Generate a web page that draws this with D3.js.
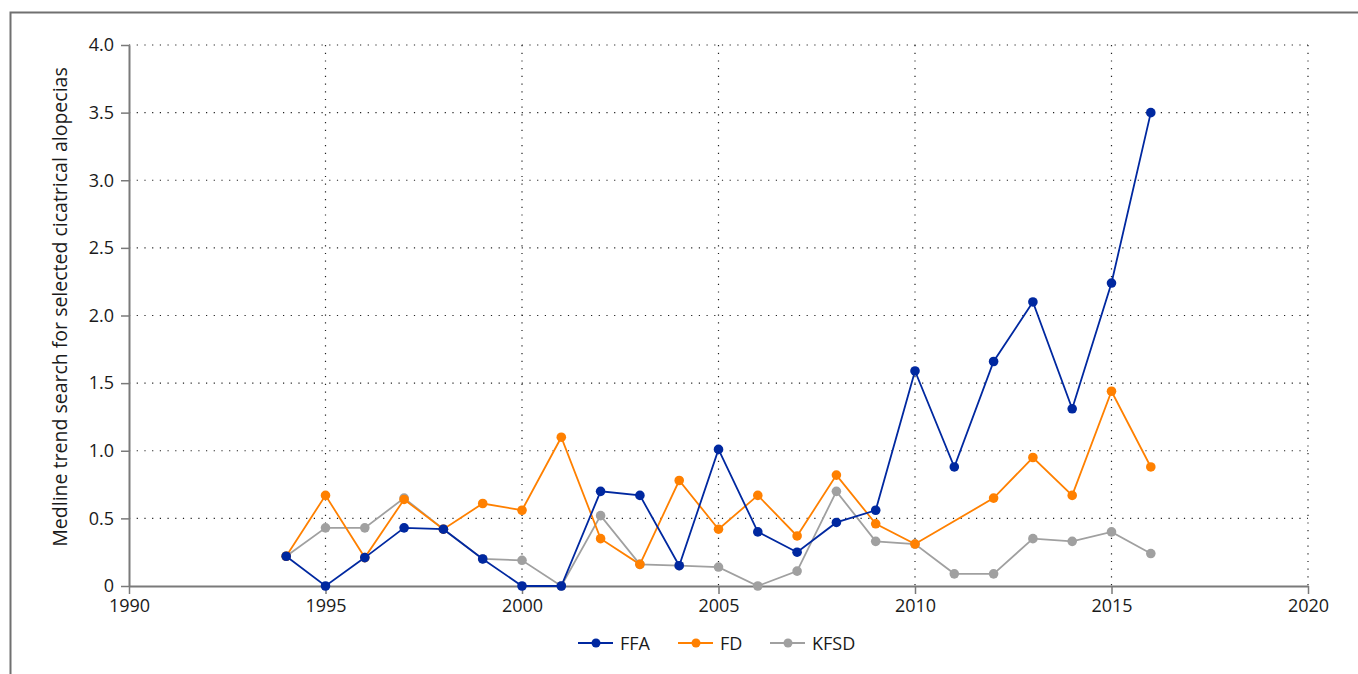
<!DOCTYPE html>
<html>
<head>
<meta charset="utf-8">
<script src="https://cdn.jsdelivr.net/npm/d3@7"></script>
<style>
  body { margin: 0; background: #fff; }
  text { font-family: "Open Sans", "Noto Sans", sans-serif; fill: #1a1a1a; }
</style>
</head>
<body>
<svg id="chart" width="1358" height="674"></svg>
<script>
// years on the x axis
var years = d3.range(1994, 2017)
// series values, null = no point that year
var ffa = [0.22, 0, 0.21, 0.43, 0.42, 0.20, 0, 0, 0.70, 0.67, 0.15, 1.01, 0.40, 0.25, 0.47, 0.56, 1.59, 0.88, 1.66, 2.10, 1.31, 2.24, 3.50]
var fd = [0.22, 0.67, 0.21, 0.64, 0.42, 0.61, 0.56, 1.10, 0.35, 0.16, 0.78, 0.42, 0.67, 0.37, 0.82, 0.46, 0.31, null, 0.65, 0.95, 0.67, 1.44, 0.88]
var kfsd = [0.22, 0.43, 0.43, 0.65, 0.42, 0.20, 0.19, 0, 0.52, 0.16, 0.15, 0.14, 0, 0.11, 0.70, 0.33, 0.31, 0.09, 0.09, 0.35, 0.33, 0.40, 0.24]
var seriesNames = ['FFA', 'FD', 'KFSD']
var seriesColors = ['#0028a0', '#ff8000', '#a0a0a0']
var xTicks = [1990, 1995, 2000, 2005, 2010, 2015, 2020]
var yTicks = [0, 0.5, 1.0, 1.5, 2.0, 2.5, 3.0, 3.5, 4.0]

var margin = {top: 45, right: 50, bottom: 88, left: 129}
var width = 1358 - margin.left - margin.right
var height = 674 - margin.top - margin.bottom

var svg = d3.select('#chart')

// outer frame (only left and top edges visible)
svg.append('path')
  .attr('d', 'M10.5,700 V12.5 H1400')
  .attr('fill', 'none')
  .attr('stroke', '#707070')
  .attr('stroke-width', 2)

var g = svg.append('g')
  .attr('transform', 'translate(' + margin.left + ',' + margin.top + ')')

var x = d3.scaleLinear().domain([1990, 2020]).range([0, width])
var y = d3.scaleLinear().domain([0, 4]).range([height, 0])

// dotted grid
g.append('g').selectAll('line')
  .data(yTicks.filter(function (d) { return d > 0 }))
  .enter().append('line')
  .attr('x1', 0).attr('x2', width)
  .attr('y1', function (d) { return y(d) }).attr('y2', function (d) { return y(d) })
  .attr('stroke', '#222').attr('stroke-width', 1.2).attr('stroke-dasharray', '1.2,6.5')

g.append('g').selectAll('line')
  .data(xTicks.filter(function (d) { return d > 1990 }))
  .enter().append('line')
  .attr('x1', function (d) { return x(d) }).attr('x2', function (d) { return x(d) })
  .attr('y1', 0).attr('y2', height)
  .attr('stroke', '#222').attr('stroke-width', 1.2).attr('stroke-dasharray', '1.2,6.5')

// axes
var fmtY = function (d) { return d === 0 ? '0' : d3.format('.1f')(d) }

var yAxisG = g.append('g')
  .call(d3.axisLeft(y).tickValues(yTicks).tickFormat(fmtY).tickSize(8).tickSizeOuter(0))
yAxisG.attr('font-size', 18).attr('font-family', '"Open Sans", sans-serif')
yAxisG.select('.domain').attr('stroke', '#7a7a7a').attr('stroke-width', 2)
yAxisG.selectAll('.tick line').attr('stroke', '#7a7a7a').attr('stroke-width', 1.5)
yAxisG.selectAll('.tick text').attr('x', -15).attr('fill', '#1a1a1a')

var xAxisG = g.append('g')
  .attr('transform', 'translate(0,' + height + ')')
  .call(d3.axisBottom(x).tickValues(xTicks).tickFormat(d3.format('d')).tickSize(8).tickSizeOuter(0))
xAxisG.attr('font-size', 18).attr('font-family', '"Open Sans", sans-serif')
xAxisG.select('.domain').attr('stroke', '#7a7a7a').attr('stroke-width', 2)
xAxisG.selectAll('.tick line').attr('stroke', '#7a7a7a').attr('stroke-width', 1.5)
xAxisG.selectAll('.tick text').attr('y', 13).attr('fill', '#1a1a1a')

// y axis title
svg.append('text')
  .attr('transform', 'translate(67,307) rotate(-90)')
  .attr('text-anchor', 'middle')
  .attr('font-size', 19.5)
  .text('Medline trend search for selected cicatrical alopecias')

// lines and points
var allSeries = [ffa, fd, kfsd]
var lineGen = d3.line()
  .x(function (d) { return x(d.year) })
  .y(function (d) { return y(d.value) })

// draw gray first so blue ends up on top
var drawOrder = [2, 1, 0]
drawOrder.forEach(function (i) {
  var pts = years.map(function (yr, j) { return {year: yr, value: allSeries[i][j]} })
    .filter(function (d) { return d.value !== null })
  g.append('path')
    .attr('d', lineGen(pts))
    .attr('fill', 'none')
    .attr('stroke', seriesColors[i])
    .attr('stroke-width', 1.8)
  g.append('g').selectAll('circle')
    .data(pts)
    .enter().append('circle')
    .attr('cx', function (d) { return x(d.year) })
    .attr('cy', function (d) { return y(d.value) })
    .attr('r', 4.8)
    .attr('fill', seriesColors[i])
})

// legend
var legendX = [578, 678, 770]
var legend = svg.append('g').attr('transform', 'translate(0,643)')
seriesNames.forEach(function (name, i) {
  var lg = legend.append('g').attr('transform', 'translate(' + legendX[i] + ',0)')
  lg.append('line').attr('x1', 0).attr('x2', 35).attr('y1', 0).attr('y2', 0)
    .attr('stroke', seriesColors[i]).attr('stroke-width', 1.8)
  lg.append('circle').attr('cx', 18).attr('cy', 0).attr('r', 4.5).attr('fill', seriesColors[i])
  lg.append('text').attr('x', 42).attr('y', 6.5).attr('font-size', 18).text(name)
})
</script>
</body>
</html>
